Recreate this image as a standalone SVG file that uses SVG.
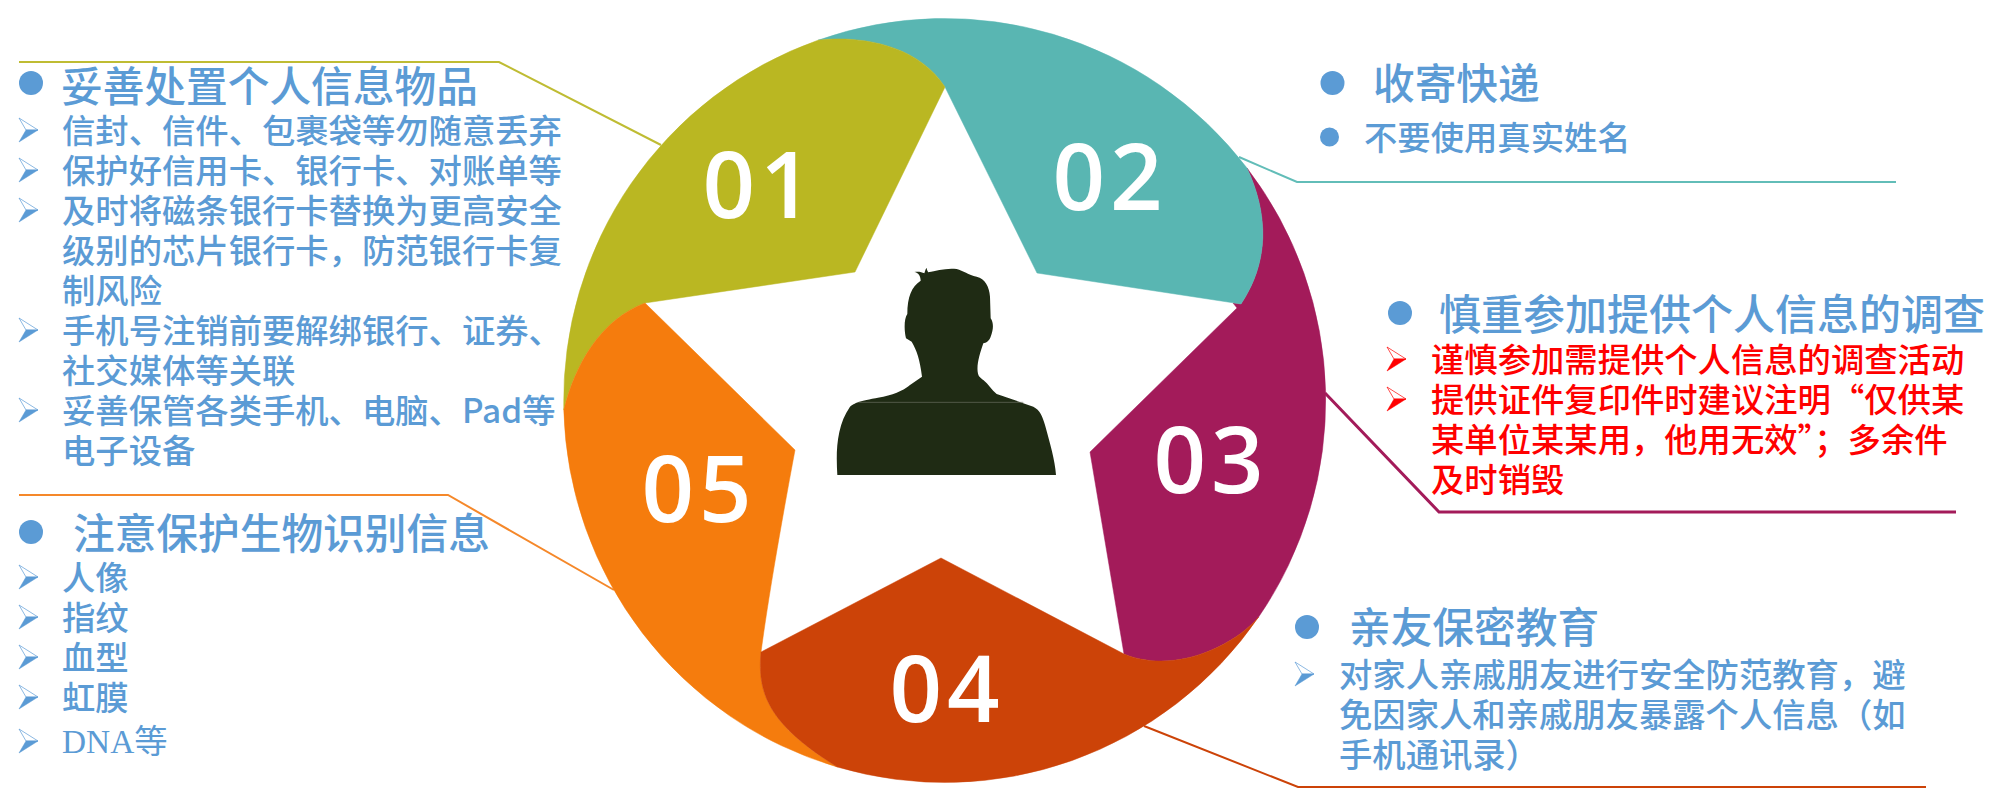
<svg xmlns="http://www.w3.org/2000/svg" width="2009" height="788" viewBox="0 0 2009 788">
<style>
text{font-family:"Noto Sans CJK SC","Noto Sans",sans-serif;font-weight:500}
.h{font-size:41.7px;fill:#5B9BD5}
.b{font-size:33.35px;fill:#5B9BD5}
.r{font-size:33.35px;fill:#FF0000}
.s{font-family:"Liberation Serif","Noto Sans CJK SC",serif;font-size:33.35px;fill:#5B9BD5;font-weight:400}
.n{font-family:"Open Sans",sans-serif;font-weight:600;font-size:92px;fill:#fff;text-anchor:middle;letter-spacing:5px}
.c{fill:none;stroke-width:2}
.d{fill:#5B9BD5}
.a{color:#5B9BD5}
.ar{color:#FF0000}
.seg{stroke-width:.5}
</style>
<defs>
<g id="arrow"><path d="M0 0L19 12L7 12Z" fill="#fff" stroke="currentColor" stroke-width=".7"/><path d="M0 24L19 12L7 12Z" fill="currentColor" stroke="currentColor" stroke-width=".5"/></g>
</defs>
<g id="connectors">
<polyline class="c" stroke="#BFBC33" points="19,62 499,62 661,145"/>
<polyline class="c" stroke="#F5882A" points="19,495 448,495 614,590"/>
<polyline class="c" stroke="#62BDB8" points="1239,157 1297,182 1896,182"/>
<polyline class="c" style="stroke-width:3" stroke="#A31B5A" points="1325,393 1439,512 1956,512"/>
<polyline class="c" stroke="#CC4308" points="1144,726 1298,787 1926,787"/>
</g>
<g id="node-03"><path class="seg" fill="#A31B5A" stroke="#A31B5A" d="M1247 168A381 382 0 0 1 1258.6 617C1235 645 1175 675 1124 654L1090 452L1237 308L1233 303L1241 304C1269 262 1269 215 1247 168Z"/><text class="n" x="1211" y="493">03</text></g>
<g id="node-02"><path class="seg" fill="#59B6B2" stroke="#59B6B2" d="M818 40.2A381 382 0 0 1 1247 168C1269 215 1269 262 1241 304L1037 273L945 87C915 40 850 36 818 40.2Z"/><text class="n" x="1110" y="210">02</text></g>
<g id="node-01"><path class="seg" fill="#BAB722" stroke="#BAB722" d="M818 40.2C850 36 915 40 945 87L855 272L645 303C600 320 575 365 563.8 410A381 382 0 0 1 818 40.2Z"/><text class="n" x="760" y="218">01</text></g>
<g id="node-05"><path class="seg" fill="#F57C0D" stroke="#F57C0D" d="M645 303L795 450C780 530 768 600 761 652C757 695 770 725 837.3 767A381 382 0 0 1 563.8 410C575 365 600 320 645 303Z"/><text class="n" x="699" y="522">05</text></g>
<g id="node-04"><path class="seg" fill="#CC4308" stroke="#CC4308" d="M761 652L941 558L1124 654C1175 675 1235 645 1258.6 617A381 382 0 0 1 837.3 767C770 725 757 695 761 652Z"/><text class="n" x="947" y="722">04</text></g>
<g id="node-person">
<g transform="translate(800 240) scale(.33333)">
<path fill="#1F2B14" d="M112 705C108 640 108 560 150 500C170 485 180 483 250 470C290 462 320 445 330 435L366 410C360 360 350 330 335 305L318 295C312 270 312 235 322 222C322 170 335 140 362 122C362 108 355 98 343 96C355 94 365 96 373 100C375 95 376 88 380 83C380 88 382 92 385 97C410 92 440 83 470 87C490 92 505 105 530 110C555 115 568 140 570 170L572 235C582 250 580 270 572 290C568 303 558 308 550 310C540 340 530 370 533 395C535 410 540 412 550 420C565 432 575 450 590 462L700 500C720 510 728 530 735 555C750 610 765 660 768 705Z"/>
<path d="M175 487L670 487" stroke="#6A7060" stroke-width="2" fill="none"/>
</g>
</g>
<g id="panel-01">
<circle class="d" cx="31" cy="83" r="12"/>
<text class="h" x="61" y="102">妥善处置个人信息物品</text>
<use href="#arrow" class="a" x="19" y="118"/>
<use href="#arrow" class="a" x="19" y="158"/>
<use href="#arrow" class="a" x="19" y="198"/>
<use href="#arrow" class="a" x="19" y="318"/>
<use href="#arrow" class="a" x="19" y="398"/>
<text class="b" x="62" y="143">信封、信件、包裹袋等勿随意丢弃</text>
<text class="b" x="62" y="183">保护好信用卡、银行卡、对账单等</text>
<text class="b" x="62" y="223">及时将磁条银行卡替换为更高安全</text>
<text class="b" x="62" y="263">级别的芯片银行卡，防范银行卡复</text>
<text class="b" x="62" y="303">制风险</text>
<text class="b" x="62" y="343">手机号注销前要解绑银行、证券、</text>
<text class="b" x="62" y="383">社交媒体等关联</text>
<text class="b" x="62" y="423">妥善保管各类手机、电脑、Pad等</text>
<text class="b" x="62" y="463">电子设备</text>
</g>
<g id="panel-05">
<circle class="d" cx="31" cy="532" r="12"/>
<text class="h" x="73" y="549">注意保护生物识别信息</text>
<use href="#arrow" class="a" x="19" y="565"/>
<use href="#arrow" class="a" x="19" y="605"/>
<use href="#arrow" class="a" x="19" y="645"/>
<use href="#arrow" class="a" x="19" y="685"/>
<use href="#arrow" class="a" x="19" y="729"/>
<text class="b" x="62" y="590">人像</text>
<text class="b" x="62" y="630">指纹</text>
<text class="b" x="62" y="670">血型</text>
<text class="b" x="62" y="710">虹膜</text>
<text class="s" x="62" y="753">DNA等</text>
</g>
<g id="panel-02">
<circle class="d" cx="1332.5" cy="83" r="12"/>
<text class="h" x="1373" y="99">收寄快递</text>
<circle class="d" cx="1329.5" cy="137" r="9.5"/>
<text class="b" x="1364" y="150">不要使用真实姓名</text>
</g>
<g id="panel-03">
<circle class="d" cx="1400" cy="313" r="12"/>
<text class="h" style="font-size:42px" x="1439" y="330">慎重参加提供个人信息的调查</text>
<use href="#arrow" class="ar" x="1387" y="347"/>
<use href="#arrow" class="ar" x="1387" y="387"/>
<text class="r" x="1431" y="372">谨慎参加需提供个人信息的调查活动</text>
<text class="r" x="1431" y="412">提供证件复印件时建议注明“仅供某</text>
<text class="r" x="1431" y="452">某单位某某用，他用无效”；多余件</text>
<text class="r" x="1431" y="492">及时销毁</text>
</g>
<g id="panel-04">
<circle class="d" cx="1307" cy="627" r="12"/>
<text class="h" x="1349" y="643">亲友保密教育</text>
<use href="#arrow" class="a" x="1295" y="662"/>
<text class="b" x="1339" y="687">对家人亲戚朋友进行安全防范教育，避</text>
<text class="b" x="1339" y="727">免因家人和亲戚朋友暴露个人信息（如</text>
<text class="b" x="1339" y="767">手机通讯录）</text>
</g>
</svg>
